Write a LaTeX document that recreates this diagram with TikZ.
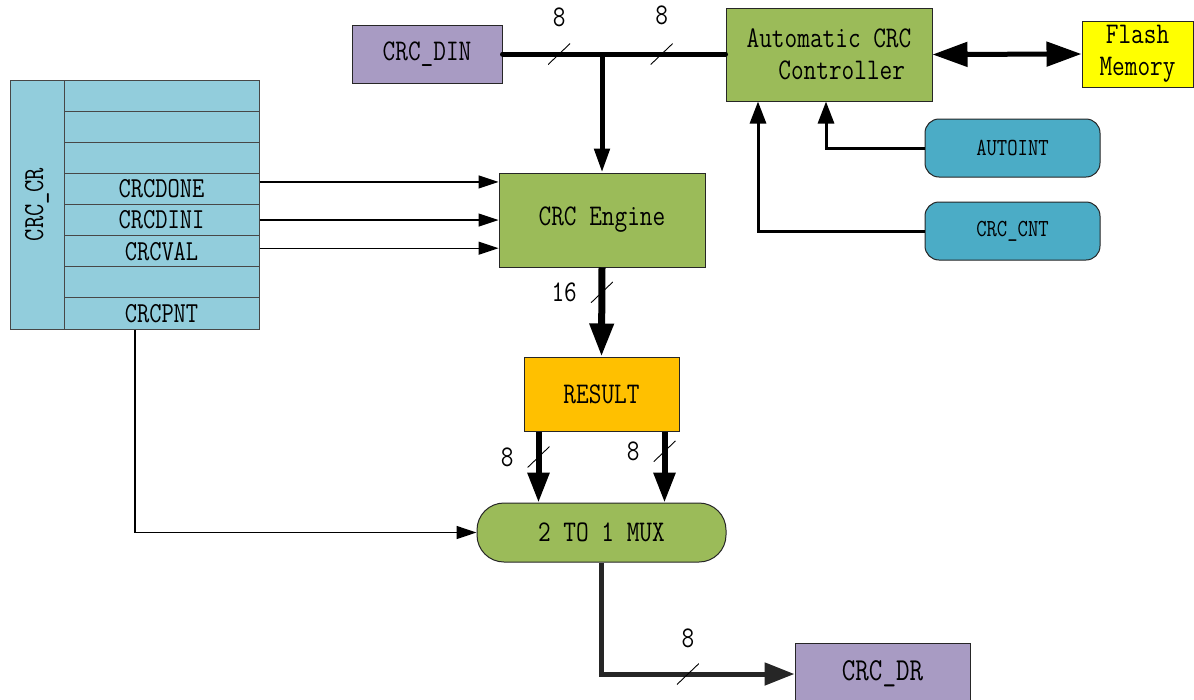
\documentclass[tikz,border=0pt]{standalone}
\usepackage{fontspec}
\setmainfont[FakeStretch=0.82]{Latin Modern Mono}
\usetikzlibrary{arrows.meta,positioning,calc}
\definecolor{dinpurple}{HTML}{A89BC3}
\definecolor{oliveg}{HTML}{9BBB59}
\definecolor{flashy}{HTML}{FFFF00}
\definecolor{regaqua}{HTML}{92CDDC}
\definecolor{resorange}{HTML}{FFC000}
\definecolor{ctlblue}{HTML}{4BACC6}
\definecolor{edge}{HTML}{262626}
\tikzset{
  blockbox/.style={draw=edge, line width=1pt, inner sep=0pt, align=center,
    font=\fontsize{30pt}{32pt}\selectfont},
  pillbox/.style={blockbox, fill=ctlblue, rounded corners=14pt,
    minimum width=175pt, minimum height=58pt, font=\fontsize{24.5pt}{26pt}\selectfont},
  regrow/.style={draw=edge!85, line width=1pt, fill=regaqua, inner sep=0pt,
    minimum width=195pt, minimum height=31.125pt, font=\fontsize{29pt}{30pt}\selectfont},
  numlabel/.style={font=\fontsize{30pt}{30pt}\selectfont, inner sep=0pt},
  slashmark/.style={inner sep=0pt, minimum width=22pt, minimum height=21pt,
    path picture={\draw[-, line width=0.9pt, black] (path picture bounding box.south west)
      -- (path picture bounding box.north east);}},
  bus/.style={line width=5pt, line cap=round, draw=black},
  fatarr/.style={line width=7pt, -{Triangle[length=33pt,width=23pt]}},
  midarr/.style={line width=6pt, -{Triangle[length=30pt,width=21pt]}},
  taparr/.style={line width=5pt, -{Triangle[length=24pt,width=15pt]}},
  dblarr/.style={line width=5pt, {Triangle[length=35pt,width=24pt]}-{Triangle[length=35pt,width=24pt]}},
  ctlarr/.style={line width=3pt, -{Triangle[length=22pt,width=16pt]}},
  sigarr/.style={line width=1.3pt, -{Triangle[length=20pt,width=13pt]}},
  drarr/.style={line width=5pt, draw=edge, -{Triangle[length=30pt,width=22pt]}}
}
\begin{document}
\begin{tikzpicture}[x=1pt,y=-1pt]
  \fill[white] (0,0) rectangle (1194,699);
  \useasboundingbox (0,0) rectangle (1194,699);
  % blocks
  \node[blockbox, fill=dinpurple, minimum width=150pt, minimum height=58pt] (din) at (427,54) {CRC\_DIN};
  \node[blockbox, fill=oliveg, minimum width=206pt, minimum height=93pt] (ctrl) at (829,54.5)
    {Automatic CRC\\\phantom{xx}Controller};
  \node[blockbox, fill=flashy, minimum width=111pt, minimum height=66pt] (flash) at (1137.5,54) {Flash\\Memory};
  \node[blockbox, fill=oliveg, minimum width=206pt, minimum height=94pt] (engine) at (602,220) {CRC Engine};
  \node[blockbox, fill=resorange, minimum width=155pt, minimum height=74pt] (result) at (601.5,394) {RESULT};
  \node[blockbox, fill=oliveg, rounded corners=27pt, minimum width=249pt, minimum height=59pt] (mux) at (601.5,532.5) {2 TO 1 MUX};
  \node[blockbox, fill=dinpurple, minimum width=175pt, minimum height=62pt,
    font=\fontsize{32pt}{32pt}\selectfont] (dr) at (882.5,674) {CRC\_DR};
  \node[pillbox] (autoint) at (1012.5,148) {AUTOINT};
  \node[pillbox] (cnt) at (1012.5,231) {CRC\_CNT};
  % register
  \node[regrow, minimum width=249pt, minimum height=54pt, rotate=90] (crccr) at (37,204.5) {CRC\_CR};
  \foreach \lbl [count=\i] in {{},{},{},CRCDONE,CRCDINI,CRCVAL,{},CRCPNT}
    \node[regrow] (r\i) at (161.5,{80+31.125*\i-15.5625}) {\lbl};
  % data path
  \draw[bus] (din.east) -- node[slashmark, pos=0.254, label={[numlabel, label distance=12pt]above:8}] {}
    node[slashmark, pos=0.714, label={[numlabel, label distance=14pt]above:8}] {} (din.east -| ctrl.west);
  \coordinate (tap) at (din.east -| engine.north);
  \draw[taparr] (tap) -- (engine.north);
  \draw[fatarr] (engine.south) -- node[slashmark, pos=0.28, label={[numlabel, label distance=7pt]left:16}] {} (result.north);
  \draw[midarr] ([xshift=15pt]result.south west) -- node[slashmark, pos=0.36, label={[numlabel, label distance=8pt]left:8}] {}
    ([xshift=15pt]result.south west |- mux.north);
  \draw[midarr] ([xshift=-15pt]result.south east) -- node[slashmark, pos=0.28, label={[numlabel, label distance=8pt]left:8}] {}
    ([xshift=-15pt]result.south east |- mux.north);
  \draw[drarr] (mux.south) |- node[slashmark, pos=0.724, label={[numlabel, label distance=11pt]above:8}] {} (dr.west);
  \draw[dblarr] (ctrl.east) -- (flash.west);
  % control signals
  \draw[ctlarr] (autoint.west) -| ([xshift=-3pt]ctrl.south);
  \draw[ctlarr] (cnt.west) -| ([xshift=-71pt]ctrl.south);
  \draw[sigarr] ([yshift=7pt]r4.east) -- ([yshift=7pt]r4.east -| engine.west);
  \draw[sigarr] (r5.east) -- (r5.east -| engine.west);
  \draw[sigarr] ([yshift=3pt]r6.east) -- ([yshift=3pt]r6.east -| engine.west);
  \draw[sigarr] ([xshift=-26.5pt]r8.south) |- (mux.west);
\end{tikzpicture}
\end{document}
